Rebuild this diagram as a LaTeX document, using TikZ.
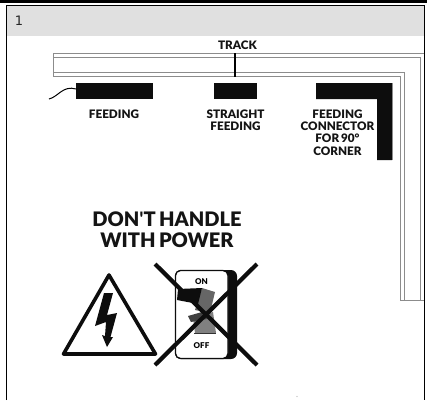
\documentclass[tikz,border=0pt]{standalone}
\usepackage{fontspec}
\setmainfont{Lato}[BoldFont={Lato Black}]
\newfontfamily\numfont{DejaVu Sans}
\newfontfamily\plainblack{Lato Black}
\begin{document}
\begin{tikzpicture}[x=1pt,y=-1pt,
  lbl/.style={font=\fontsize{11.7}{12.3}\selectfont\bfseries,align=center,inner sep=0,text=black!92},
  track/.style={draw=black!45,line width=0.8pt},
  bar/.style={fill=black!95,draw=none},
  big/.style={font=\fontsize{20}{21}\selectfont\bfseries,align=center,inner sep=0,text=black!92},
  small/.style={font=\fontsize{8}{8}\selectfont\bfseries,inner sep=0}]
\useasboundingbox (0,0) rectangle (427,400);
\fill[white] (0,0) rectangle (427,400);
\fill[black] (0,0) rectangle (427,3);
\fill[black!12] (6,5.5) rectangle (424.5,36);
\draw[black,line width=1.4pt] (6.3,400) -- (6.3,5.5) -- (424.7,5.5) -- (424.7,400);
\node[font=\fontsize{13}{14}\numfont,inner sep=0,text=black!85] (num) at (19,21) {1};
% track
\draw[track] (424,53.5) -- (53.5,53.5) -- (53.5,76.5) -- (400.5,76.5) -- (400.5,300.5) -- (424,300.5);
\draw[track] (53.5,57.5) -- (420.5,57.5) -- (420.5,300.5);
\draw[track] (53.5,72) -- (404.5,72) -- (404.5,300.5);
\node[lbl] (track) at (237.5,45) {TRACK};
\coordinate (ttop) at (235,53);
\coordinate (tbot) at (235,76.5);
\draw[black,line width=1.5pt] (ttop) -- (tbot);
% bars
\fill[bar] (76,83) rectangle (153,99);
\fill[bar] (214,83) rectangle (257,99);
\fill[bar] (316,83) -- (392,83) -- (392,160) -- (377,160) -- (377,99) -- (316,99) -- cycle;
\draw[black!45,line width=0.6pt] (392.6,83) -- (392.6,160);
\coordinate (wa) at (49,99);
\coordinate (wb) at (76,89);
\draw[black,line width=1pt] (wa) .. controls (58,97) and (63,85) .. (wb);
\node[lbl] (f1) at (114,114) {FEEDING};
\node[lbl] (f2) at (235.5,120) {STRAIGHT\\FEEDING};
\node[lbl] (f3) at (337.5,132.5) {FEEDING\\CONNECTOR\\FOR\,90°\\CORNER};
\node[big] (warn) at (167,229.5) {DON{\plainblack\char"27}T\,HANDLE\\WITH\,POWER};
% triangle
\draw[black!95,line width=3.6pt,line join=round] (109,275) -- (155.5,354) -- (63.5,354) -- cycle;
\fill[black!95] (104,293) -- (113,293) -- (107,315) -- (117,313) -- (110.5,337) -- (113,337) -- (107,347) -- (102,335) -- (105,336) -- (106,322) -- (95,326) -- cycle;
% switch
\fill[black!95,rounded corners=6pt] (175,270) rectangle (237,359);
\draw[black!95,line width=1.3pt,fill=white,rounded corners=5pt] (175.5,270.5) rectangle (228,358.5);
\node[small] (on) at (201.5,281.5) {ON};
\node[small] (off) at (201.5,346) {OFF};
\fill[black!60] (202,288) -- (215,292) -- (210,313) -- (195,310) -- cycle;
\fill[black!95] (178,289) -- (202,288) -- (198,304) -- (177,300) -- cycle;
\fill[black!50] (193,318) -- (213,312) -- (216,333) -- (195,333) -- cycle;
\fill[black!75] (188,316) -- (202,312) -- (207,319) -- (191,322) -- cycle;
\draw[black!80,line width=1pt] (194,333.5) -- (216,333.5);
\draw[black!95,line width=4.2pt] (155,264) -- (257,365);
\draw[black!95,line width=4.2pt] (257,264) -- (155,365);
\fill[black!30] (297,396.5) circle (0.6);
\end{tikzpicture}
\end{document}
